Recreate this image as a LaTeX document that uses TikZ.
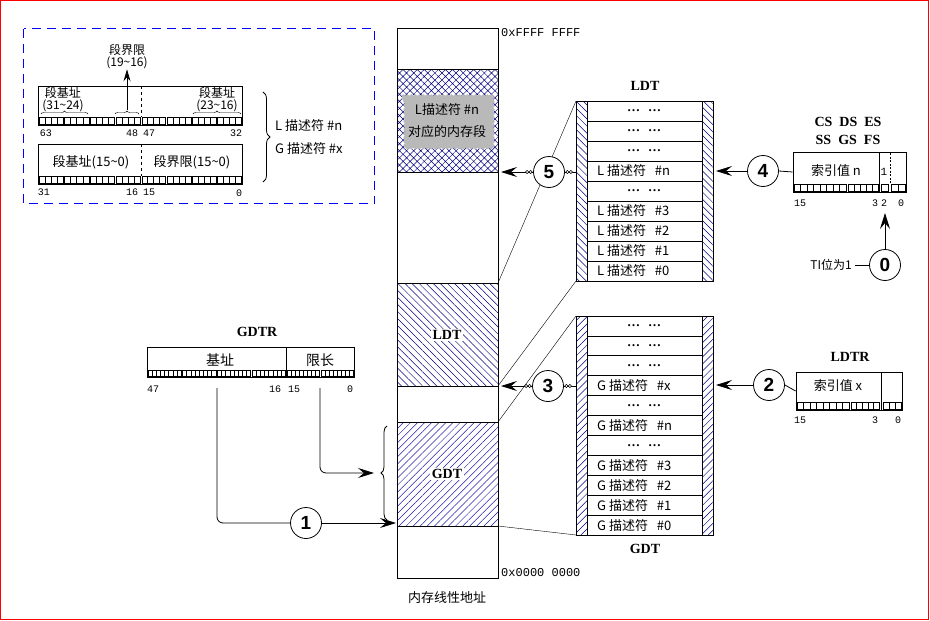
\documentclass[tikz,border=0pt]{standalone}
\usepackage{fontspec}
\setmainfont{Liberation Serif}
\newfontfamily\cjk{Noto Sans CJK SC}
\newfontfamily\mono{Liberation Mono}
\newfontfamily\arial{Liberation Sans}
\usetikzlibrary{patterns.meta,decorations.pathmorphing,decorations.pathreplacing,arrows.meta,calc}
\definecolor{navyc}{RGB}{0,0,128}
\definecolor{gdtblue}{RGB}{30,30,170}
\newcommand\fsz[1]{\fontsize{#1}{#1}\selectfont}
\newcommand\dd{\textbf{…\hspace{8pt}…}}
\newcommand\cells[5]{%
  \draw[bitline] (#1,#4) rectangle (#2,#5);
  \pgfmathsetmacro\cellw{(#2-#1)/#3}%
  \pgfmathtruncatemacro\cellm{#3-1}%
  \foreach \ci in {1,...,\cellm}{\draw[bitline] ({#1+\ci*\cellw},#4) -- ({#1+\ci*\cellw},#5);}%
}
\newcommand\groups[6]{%
  \pgfmathsetmacro\grw{(#2-#1)/#3}%
  \foreach \gi in {1,...,#3}{%
    \pgfmathsetmacro\gxa{#1+(\gi-1)*\grw+0.7}%
    \pgfmathsetmacro\gxb{#1+\gi*\grw-0.7}%
    \cells{\gxa}{\gxb}{#4}{#5}{#6}%
  }%
}
\begin{document}
\begin{tikzpicture}[x=1pt,y=-1pt,
  ln/.style={line width=0.8pt},
  bitline/.style={line width=0.4pt},
  arr/.style={line width=0.8pt,-{Stealth[length=16pt,width=10pt,inset=6pt]}},
  num/.style={circle,draw,line width=0.8pt,fill=white,minimum size=31pt,inner sep=0pt,font=\arial\bfseries\fsz{19}},
  cj/.style={font=\cjk\fsz{13},inner sep=0pt},
  cjs/.style={font=\cjk\fsz{12},inner sep=0pt},
  lbl/.style={font=\mono\fsz{10},inner sep=0pt},
  hd/.style={font=\bfseries\fsz{14},inner sep=0pt},
  link/.style={circle,draw,inner sep=0pt,minimum size=3.2pt,line width=0.5pt,fill=white},
  dots/.style={font=\fsz{13},inner sep=0pt}]
\useasboundingbox (0,0) rectangle (930,621);
\draw[red,line width=1.3pt] (0.7,0.7) rectangle (928.6,619.6);

% ---------- descriptor format box ----------
\draw[blue,line width=0.9pt,dash pattern=on 9pt off 6pt] (23.5,28.5) rectangle (374.5,203.5);
\draw[ln] (38,86) rectangle (242,125);
\draw[ln,dashed] (141,86) -- (141,117);
\groups{38}{141}{4}{4}{117}{124}
\groups{141}{242}{4}{4}{117}{124}
\node[cjs] (ba1) at (63,93) {段基址};
\node[cjs] (ba2) at (63,106) {(31\textasciitilde24)};
\node[cjs] (bb1) at (217,93) {段基址};
\node[cjs] (bb2) at (217,106) {(23\textasciitilde16)};
\node[cjs] (lm1) at (127,50) {段界限};
\node[cjs] (lm2) at (127,63) {(19\textasciitilde16)};
\draw[bitline,decorate,decoration={brace,amplitude=3pt}] (41,114) -- (88,114);
\draw[bitline,decorate,decoration={brace,amplitude=3pt}] (115,114) -- (139,114);
\draw[bitline,decorate,decoration={brace,amplitude=3pt}] (193,114) -- (241,114);
\coordinate (lmsrc) at (127,110);
\draw[ln,-{Stealth[length=12pt,width=7pt,inset=4pt]}] (lmsrc) -- (lm2.south);
\node[lbl] (n63) at (46,133) {63};
\node[lbl] (n48) at (132,133) {48};
\node[lbl] (n47) at (149,133) {47};
\node[lbl] (n32) at (236,133) {32};

\draw[ln] (38,144) rectangle (242,184);
\draw[ln,dashed] (141,144) -- (141,176);
\groups{38}{141}{4}{4}{176}{183}
\groups{141}{242}{4}{4}{176}{183}
\node[cj] (bc) at (91,162) {段基址(15\textasciitilde0)};
\node[cj] (lc) at (192,162) {段界限(15\textasciitilde0)};
\node[lbl] (n31) at (44,192) {31};
\node[lbl] (n16) at (132,192) {16};
\node[lbl] (n15) at (149,192) {15};
\node[lbl] (n0) at (239,193) {0};
\draw[ln,decorate,decoration={brace,amplitude=7pt}] (263,92) -- (263,182);
\node[cj,anchor=west] (dl) at (275,126) {L\ 描述符\ \#n};
\node[cj,anchor=west] (dg) at (275,149) {G\ 描述符\ \#x};

% ---------- linear memory column ----------
\fill[pattern={Hatch[angle=45,distance=5pt,line width=0.5pt]},pattern color=navyc] (397,69) rectangle (498,172);
\fill[pattern={Lines[angle=-45,distance=5pt,line width=0.5pt]},pattern color=navyc] (397,283) rectangle (498,386);
\fill[pattern={Lines[angle=45,distance=5pt,line width=0.5pt]},pattern color=gdtblue] (397,422) rectangle (498,526);
\fill[gray!55,decorate,decoration={snake,amplitude=0.8pt,segment length=4pt}] (402,95) -- (493,95) -- (493,146) -- (402,146) -- cycle;
\node[cj] (seg1) at (447,110) {L描述符 \#n};
\node[cj] (seg2) at (447,132) {对应的内存段};
\draw[ln] (397,28) rectangle (498,578);
\foreach \yy in {69,172,283,386,422,526} \draw[ln] (397,\yy) -- (498,\yy);
\node[hd,fill=white,inner sep=1.5pt] (ldtm) at (447,335) {LDT};
\node[hd,fill=white,inner sep=1.5pt] (gdtm) at (447,474) {GDT};
\node[font=\mono\fsz{12},anchor=west,inner sep=0pt] (top) at (501,33) {0xFFFF FFFF};
\node[font=\mono\fsz{12},anchor=west,inner sep=0pt] (bot) at (501,573) {0x0000 0000};
\node[cj] (cap) at (447,598) {内存线性地址};

% ---------- LDT table ----------
\fill[pattern={Lines[angle=-45,distance=5pt,line width=0.5pt]},pattern color=navyc] (576,101) rectangle (587,281);
\fill[pattern={Lines[angle=-45,distance=5pt,line width=0.5pt]},pattern color=navyc] (702,101) rectangle (713,281);
\draw[ln] (576,101) rectangle (713,281);
\draw[ln] (587,101) -- (587,281);
\draw[ln] (702,101) -- (702,281);
\foreach \r in {1,...,8} \draw[ln] (587,{101+\r*20}) -- (702,{101+\r*20});
\foreach \r in {0,1,2,4} \node[dots] (ld\r) at (644,{111+\r*20}) {\dd};
\foreach \r/\t in {3/n,5/3,6/2,7/1,8/0} \node[cj,anchor=west] (ld\r) at (597,{111+\r*20}) {L\ 描述符\ \ \ \#\t};
\node[hd] (ldtt) at (645,86) {LDT};

% ---------- GDT table ----------
\fill[pattern={Lines[angle=45,distance=5pt,line width=0.5pt]},pattern color=navyc] (576,316) rectangle (587,535);
\fill[pattern={Lines[angle=45,distance=5pt,line width=0.5pt]},pattern color=navyc] (702,316) rectangle (713,535);
\draw[ln] (576,316) rectangle (713,535);
\draw[ln] (587,316) -- (587,535);
\draw[ln] (702,316) -- (702,535);
\foreach \r in {1,...,10} \draw[ln] (587,{316+\r*19.909}) -- (702,{316+\r*19.909});
\foreach \r in {0,1,2,4,6} \node[dots] (gd\r) at (644,{316+(\r+0.5)*19.909}) {\dd};
\foreach \r/\t in {3/x,5/n,7/3,8/2,9/1,10/0} \node[cj,anchor=west] (gd\r) at (597,{316+(\r+0.5)*19.909}) {G\ 描述符\ \ \ \#\t};
\node[hd] (gdtt) at (645,549) {GDT};

% ---------- connecting lines column -> tables ----------
\coordinate (mLt) at (498,283); \coordinate (mLb) at (498,386);
\coordinate (mGt) at (498,422); \coordinate (mGb) at (498,526);
\coordinate (tLt) at (576,101); \coordinate (tLb) at (576,281);
\coordinate (tGt) at (576,316); \coordinate (tGb) at (576,535);
\draw[bitline] (mLt) -- (tLt);
\draw[bitline] (mLb) -- (tLb);
\draw[bitline] (mGt) -- (tGt);
\draw[bitline] (mGb) -- (tGb);

% ---------- selector (CS...) ----------
\node[hd] (sr1) at (848,122) {CS\ \ DS\ \ ES};
\node[hd] (sr2) at (848,140) {SS\ \ GS\ \ FS};
\node[draw,ln,minimum width=113pt,minimum height=40pt,inner sep=0pt] (sel) at (849.5,172) {};
\draw[ln] (879,152) -- (879,192);
\draw[bitline,dash pattern=on 2pt off 1.5pt] (890,153) -- (890,184);
\cells{794}{846}{8}{184}{191}
\cells{848}{878}{5}{184}{191}
\draw[bitline] (881,184) rectangle (888,191);
\cells{891}{905}{2}{184}{191}
\node[cj] (sidx) at (836,171) {索引值\ n};
\node[font=\mono\fsz{11},inner sep=0pt] (ti1) at (884,172) {1};
\node[lbl] (s15) at (800,203) {15};
\node[lbl] (s3) at (875,203) {3};
\node[lbl] (s2) at (884,203) {2};
\node[lbl] (s0) at (901,203) {0};

% ---------- LDTR ----------
\node[hd] (ldtrt) at (850,357) {LDTR};
\node[draw,ln,minimum width=106pt,minimum height=38pt,inner sep=0pt] (ldtr) at (849,391) {};
\draw[ln] (881,372) -- (881,410);
\cells{797}{849}{8}{402}{409}
\cells{851}{879}{5}{402}{409}
\cells{883}{901}{3}{402}{409}
\node[cj] (lidx) at (838,386) {索引值\ x};
\node[lbl] (r15) at (800,420) {15};
\node[lbl] (r3) at (875,420) {3};
\node[lbl] (r0) at (898,420) {0};

% ---------- GDTR ----------
\node[hd] (gdtrt) at (257,332) {GDTR};
\node[draw,ln,minimum width=207pt,minimum height=30pt,inner sep=0pt] (gdtr) at (250.5,362) {};
\draw[ln] (286,347) -- (286,377);
\groups{147}{286}{4}{8}{370}{376}
\groups{286}{354}{2}{8}{370}{376}
\node[cj,font=\cjk\fsz{14}] (gbase) at (220,360) {基址};
\node[cj,font=\cjk\fsz{14}] (glim) at (320,360) {限长};
\node[lbl] (g47) at (153,389) {47};
\node[lbl] (g16) at (275,389) {16};
\node[lbl] (g15) at (294,389) {15};
\node[lbl] (g0) at (350,389) {0};

% ---------- circles & arrows ----------
\node[num] (c1) at (306,523) {1};
\coordinate (gb) at (217,388);
\coordinate (gl) at (320,388);
\coordinate (gdtin) at (396,523);
\coordinate (brtip) at (374,473);
\draw[ln,rounded corners=6pt] (gb) |- (c1.west);
\draw[arr] (c1.east) -- (gdtin);
\draw[arr,rounded corners=6pt] (gl) |- (brtip);
\draw[ln,decorate,decoration={brace,amplitude=6pt}] (387,520) -- (387,426);

\coordinate (m5) at (501,172);
\coordinate (m3) at (501,386);
\coordinate (tL5) at (576,172);
\coordinate (tG3) at (576,386);
\coordinate (tLr) at (716,171);
\coordinate (tGr) at (716,385);
\node[num] (c5) at (549,172) {5};
\node[num] (c3) at (548,386) {3};
\node[num] (c4) at (763,171) {4};
\node[num] (c2) at (769,385) {2};
\node[num] (c0) at (885,265) {0};
\draw[arr] (c5.west) -- (m5);
\draw[ln] (c5.east) -- (tL5);
\draw[arr] (c3.west) -- (m3);
\draw[ln] (c3.east) -- (tG3);
\foreach \cc in {c5,c3}{
  \node[link] (\cc la) at ($(\cc.west)+(-2.5,0)$) {};
  \node[link] (\cc lb) at ($(\cc.west)+(-6,0)$) {};
  \node[link] (\cc ra) at ($(\cc.east)+(2.5,0)$) {};
  \node[link] (\cc rb) at ($(\cc.east)+(6,0)$) {};
}
\draw[arr] (c4.west) -- (tLr);
\draw[ln] (c4.east) -- (sel.west);
\draw[arr] (c2.west) -- (tGr);
\draw[ln] (c2.east) -- (ldtr.west);
\coordinate (tibit) at (885,213);
\draw[arr] (c0.north) -- (tibit);
\node[font=\cjk\fsz{12},anchor=east,inner sep=0pt] (ti) at (852,265) {TI位为1};
\draw[ln] ([xshift=3pt]ti.east) -- (c0.west);
\end{tikzpicture}
\end{document}
